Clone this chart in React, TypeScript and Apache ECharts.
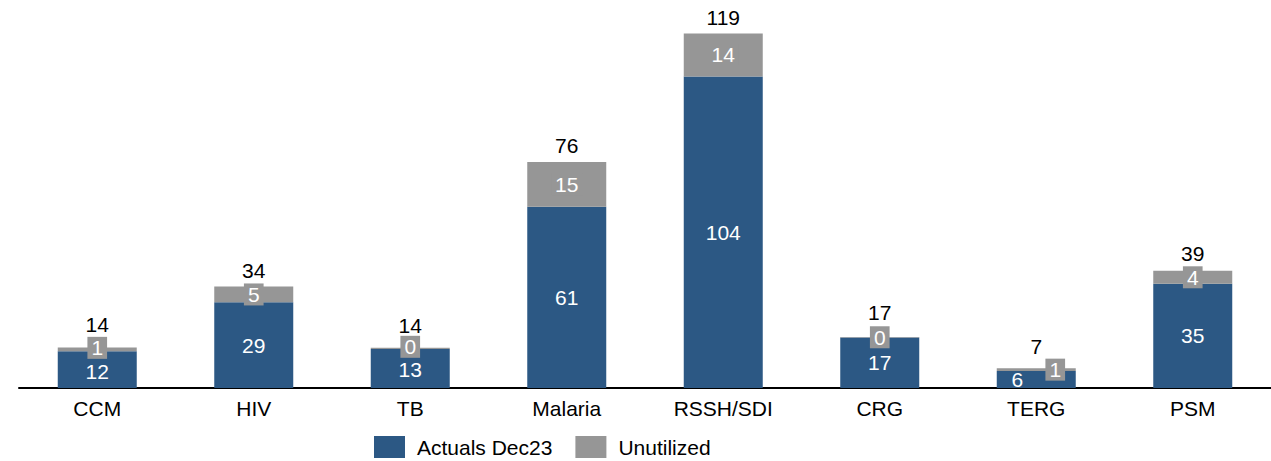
import React, { useEffect, useRef } from "react";
import * as echarts from "echarts";

// Budget lines and their spend split (rounded on the labels)
const categories = ["CCM", "HIV", "TB", "Malaria", "RSSH/SDI", "CRG", "TERG", "PSM"];
const actuals = [12.3, 28.7, 13.1, 60.7, 104.4, 16.9, 5.7, 34.9];
const unutilized = [1.3, 5.3, 0.4, 15.0, 14.4, 0.2, 0.9, 4.4];

const BLUE = "#2C5884";
const GRAY = "#969696";
const FONT = "'Liberation Sans', Arial, sans-serif";
const FS = 21;

// Label nudges where small segments crowd each other
const totalLift: Record<string, number> = { CCM: 6, TB: 6, CRG: 8, TERG: 5, PSM: 1 };
const sideShift: Record<string, number> = { TERG: 19 };
const stackGap: Record<string, number> = { CCM: 1.5, TB: 1.5 };

export default function App() {
  const ref = useRef<HTMLDivElement>(null);

  useEffect(() => {
    if (!ref.current) return;
    const chart = echarts.init(ref.current, null, { renderer: "svg" });
    const totals = categories.map((_, i) => actuals[i] + unutilized[i]);

    chart.setOption({
      animation: false,
      textStyle: { fontFamily: FONT },
      grid: { left: 19, right: 0, top: 15, bottom: 73 },
      legend: {
        data: ["Actuals Dec23", "Unutilized"],
        left: 374,
        top: 436,
        padding: 0,
        itemWidth: 31,
        itemHeight: 22,
        itemGap: 23,
        icon: "rect",
        textStyle: { fontFamily: FONT, fontSize: FS, color: "#000", padding: [0, 0, 0, 7] },
      },
      xAxis: {
        type: "category",
        data: categories,
        axisLine: { lineStyle: { color: "#000", width: 2 } },
        axisTick: { show: false },
        axisLabel: { fontFamily: FONT, fontSize: FS, color: "#000", margin: 10 },
      },
      yAxis: { type: "value", min: 0, max: 125, show: false, splitLine: { show: false } },
      series: [
        {
          name: "Actuals Dec23",
          type: "bar",
          stack: "total",
          barWidth: 79,
          itemStyle: { color: BLUE },
          data: actuals.map((v, i) => ({
            value: v,
            label: {
              offset: [-(sideShift[categories[i]] || 0), stackGap[categories[i]] || 0],
            },
          })),
          label: {
            show: true,
            position: "inside",
            color: "#fff",
            fontFamily: FONT,
            fontSize: FS,
            formatter: (p: any) => String(Math.round(p.value)),
          },
        },
        {
          name: "Unutilized",
          type: "bar",
          stack: "total",
          barWidth: 79,
          itemStyle: { color: GRAY },
          data: unutilized.map((v, i) => ({
            value: v,
            label: {
              offset: [sideShift[categories[i]] || 0, -(stackGap[categories[i]] || 0)],
            },
          })),
          label: {
            show: true,
            position: "inside",
            color: "#fff",
            fontFamily: FONT,
            fontSize: FS,
            backgroundColor: GRAY,
            padding: [1, 4, 0, 4],
            formatter: (p: any) => String(Math.round(p.value)),
          },
        },
        {
          name: "Total",
          type: "bar",
          stack: "total",
          barWidth: 79,
          itemStyle: { color: "transparent" },
          data: totals.map((t, i) => ({
            value: 0,
            label: {
              offset: [0, -(totalLift[categories[i]] || 0)],
              formatter: String(Math.round(t)),
            },
          })),
          label: {
            show: true,
            position: "top",
            distance: 6,
            color: "#000",
            fontFamily: FONT,
            fontSize: FS,
          },
        },
      ],
    });

    return () => chart.dispose();
  }, []);

  return (
    <div
      ref={ref}
      style={{ position: "absolute", left: 0, top: 0, width: 1271, height: 461 }}
    />
  );
}
